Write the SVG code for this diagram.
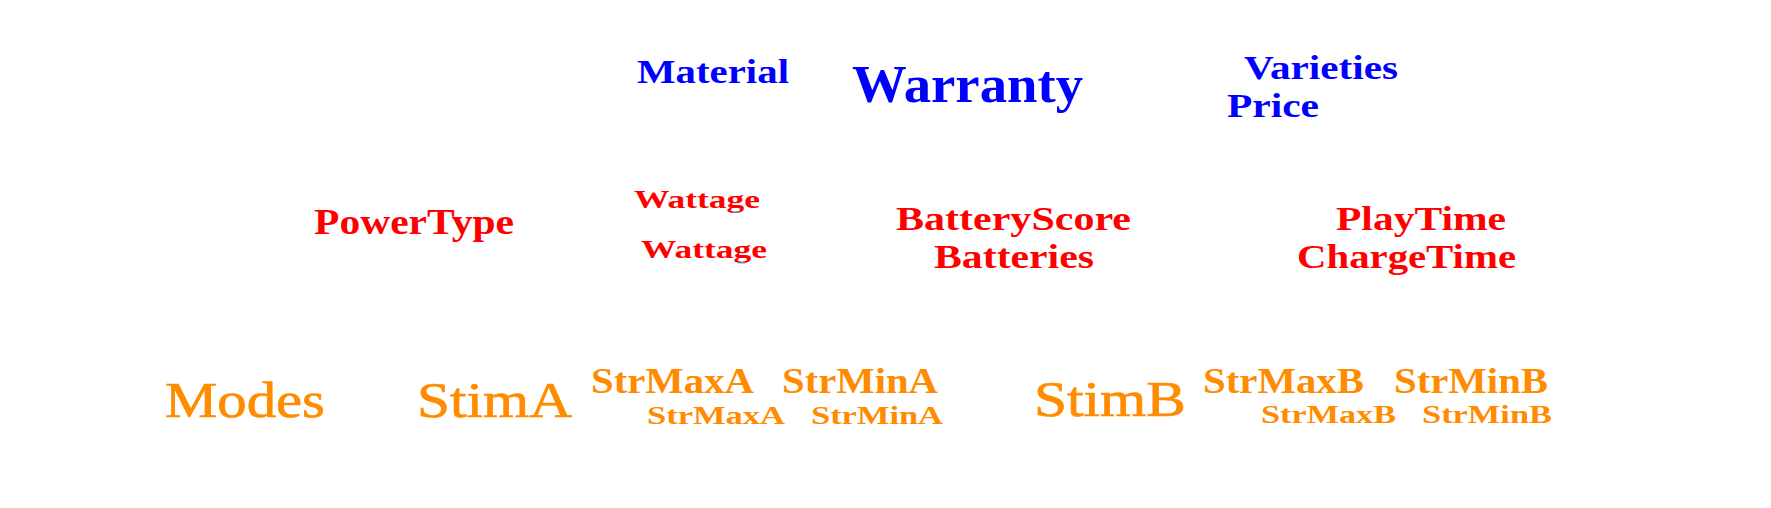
<svg xmlns="http://www.w3.org/2000/svg" width="1771" height="508" viewBox="0 0 1771 508">
<style>
text{font-family:"Liberation Serif","Times New Roman",serif;}
.b{font-weight:bold;}
.blue{fill:#0000FF;}
.red{fill:#FF0000;}
.org{fill:#FF8C00;}
.reg{stroke:#FF8C00;stroke-width:0.7;}
.mark{stroke:#33CCEE;stroke-width:1.5;opacity:0.7;}
</style>
<rect width="1771" height="508" fill="#FFFFFF"/>
<g id="connectors"/>
<g id="material"><text class="b blue" x="637" y="83" font-size="34" textLength="152" lengthAdjust="spacingAndGlyphs">Material</text></g>
<g id="warranty"><text class="b blue" x="852" y="102" font-size="53" textLength="231" lengthAdjust="spacingAndGlyphs">Warranty</text></g>
<g id="varieties"><text class="b blue" x="1244" y="79" font-size="33" textLength="154" lengthAdjust="spacingAndGlyphs">Varieties</text></g>
<g id="price"><text class="b blue" x="1227" y="117" font-size="33" textLength="92" lengthAdjust="spacingAndGlyphs">Price</text></g>
<g id="powertype"><text class="b red" x="314" y="234" font-size="36" textLength="200" lengthAdjust="spacingAndGlyphs">PowerType</text></g>
<g id="wattage1"><text class="b red" x="634" y="208" font-size="25" textLength="126" lengthAdjust="spacingAndGlyphs">Wattage</text><line class="mark" x1="733" y1="212" x2="741" y2="212"/></g>
<g id="wattage2"><text class="b red" x="641" y="258" font-size="25" textLength="126" lengthAdjust="spacingAndGlyphs">Wattage</text><line class="mark" x1="738" y1="263" x2="745" y2="263"/></g>
<g id="batteryscore"><text class="b red" x="896" y="230" font-size="33" textLength="235" lengthAdjust="spacingAndGlyphs">BatteryScore</text></g>
<g id="batteries"><text class="b red" x="934" y="268" font-size="34" textLength="160" lengthAdjust="spacingAndGlyphs">Batteries</text></g>
<g id="playtime"><text class="b red" x="1336" y="230" font-size="33" textLength="170" lengthAdjust="spacingAndGlyphs">PlayTime</text></g>
<g id="chargetime"><text class="b red" x="1297" y="268" font-size="34" textLength="219" lengthAdjust="spacingAndGlyphs">ChargeTime</text></g>
<g id="modes"><text class="org reg" x="165" y="417" font-size="51" textLength="160" lengthAdjust="spacingAndGlyphs">Modes</text></g>
<g id="stima"><text class="org reg" x="417" y="417" font-size="51" textLength="155" lengthAdjust="spacingAndGlyphs">StimA</text></g>
<g id="strmaxa1"><text class="b org" x="591" y="393" font-size="35" textLength="163" lengthAdjust="spacingAndGlyphs">StrMaxA</text></g>
<g id="strmina1"><text class="b org" x="782" y="393" font-size="35" textLength="156" lengthAdjust="spacingAndGlyphs">StrMinA</text></g>
<g id="strmaxa2"><text class="b org" x="647" y="424" font-size="26" textLength="138" lengthAdjust="spacingAndGlyphs">StrMaxA</text></g>
<g id="strmina2"><text class="b org" x="811" y="424" font-size="26" textLength="132" lengthAdjust="spacingAndGlyphs">StrMinA</text></g>
<g id="stimb"><text class="org reg" x="1034" y="416" font-size="51" textLength="152" lengthAdjust="spacingAndGlyphs">StimB</text></g>
<g id="strmaxb1"><text class="b org" x="1203" y="393" font-size="35" textLength="161" lengthAdjust="spacingAndGlyphs">StrMaxB</text></g>
<g id="strminb1"><text class="b org" x="1394" y="393" font-size="35" textLength="154" lengthAdjust="spacingAndGlyphs">StrMinB</text></g>
<g id="strmaxb2"><text class="b org" x="1261" y="423" font-size="26" textLength="135" lengthAdjust="spacingAndGlyphs">StrMaxB</text></g>
<g id="strminb2"><text class="b org" x="1422" y="423" font-size="26" textLength="130" lengthAdjust="spacingAndGlyphs">StrMinB</text></g>
</svg>
